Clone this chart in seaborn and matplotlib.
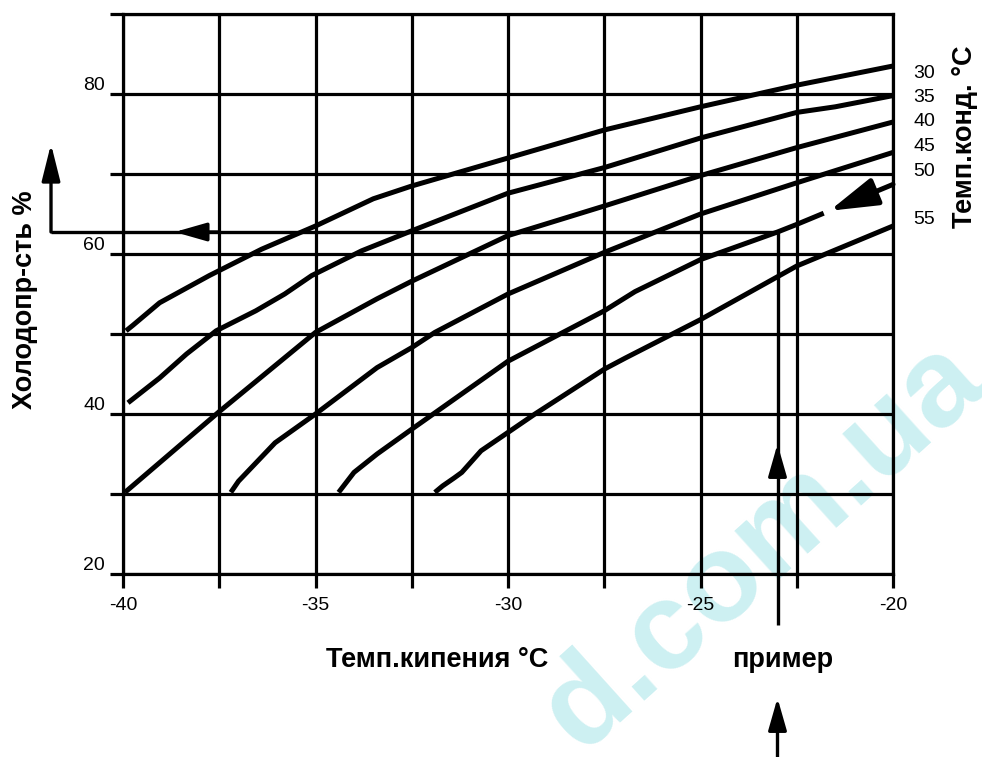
import numpy as np
import pandas as pd
import matplotlib
matplotlib.use("Agg")
import matplotlib.pyplot as plt
from matplotlib.ticker import FuncFormatter
import seaborn as sns

# Relative capacity (%) versus evaporating temperature (°C),
# one curve per condensing temperature.
cond_temps = [30, 35, 40, 45, 50, 55]

t_evap_30 = [-39.92, -39.74, -39.05, -37.76, -36.4, -35.0, -33.5, -32.5, -30.0, -27.5, -25.0, -22.5, -20.0]
cap_30 = [50.4, 51.1, 53.9, 57.3, 60.6, 63.5, 66.9, 68.5, 72.0, 75.5, 78.4, 81.1, 83.5]

t_evap_35 = [-39.87, -39.05, -38.35, -37.58, -36.55, -35.8, -35.1, -33.8, -32.5, -30.0, -27.5, -25.0, -22.5, -21.5, -20.0]
cap_35 = [41.4, 44.5, 47.5, 50.4, 52.9, 55.0, 57.3, 60.4, 62.9, 67.6, 70.8, 74.5, 77.7, 78.4, 79.8]

t_evap_40 = [-39.95, -37.5, -35.0, -33.4, -32.5, -30.0, -27.5, -25.0, -22.5, -20.0]
cap_40 = [30.2, 40.3, 50.2, 54.4, 56.6, 62.3, 66.0, 69.8, 73.3, 76.5]

t_evap_45 = [-37.2, -37.0, -36.05, -35.0, -33.4, -32.5, -31.9, -30.0, -27.5, -25.0, -22.5, -20.0]
cap_45 = [30.2, 31.6, 36.4, 40.0, 45.8, 48.3, 50.2, 55.0, 60.2, 65.0, 68.9, 72.7]

t_evap_50 = [-34.4, -34.0, -33.4, -32.5, -30.0, -27.5, -26.7, -25.0, -23.0, -22.5, -21.8, -20.0]
cap_50 = [30.2, 32.7, 35.0, 38.1, 46.6, 52.9, 55.3, 59.3, 62.75, 63.7, 65.1, 68.7]

t_evap_55 = [-31.9, -31.7, -31.4, -31.2, -30.7, -30.0, -29.3, -27.5, -26.95, -25.0, -22.5, -20.0]
cap_55 = [30.2, 31.0, 32.0, 32.7, 35.4, 37.7, 40.0, 45.6, 47.0, 51.8, 58.5, 63.5]

# Worked example: evaporating at -23 °C, condensing at 50 °C
example_t_evap = -23.0
example_capacity = 62.75

x_ticks = list(np.arange(-40, -19.9, 2.5))
y_ticks = [20, 30, 40, 50, 60, 70, 80, 90]
cond_label_y = [82.6, 79.5, 76.5, 73.4, 70.25, 64.25]

curves = {
    30: (t_evap_30, cap_30),
    35: (t_evap_35, cap_35),
    40: (t_evap_40, cap_40),
    45: (t_evap_45, cap_45),
    50: (t_evap_50, cap_50),
    55: (t_evap_55, cap_55),
}

sns.set_style("white")
plt.rcParams["font.family"] = ["Liberation Sans", "DejaVu Sans"]
plt.rcParams["text.color"] = "black"
plt.rcParams["axes.labelcolor"] = "black"

INK = "black"
GRID_LW = 2.3
CURVE_LW = 3.6
GUIDE_LW = 2.4
LABEL_FS = 19.5

fig = plt.figure(figsize=(9.82, 7.57), dpi=100)
ax = fig.add_axes([123 / 982, 1 - 574 / 757, 770 / 982, 560 / 757])
ax.patch.set_alpha(0)

# faint site mark behind the chart
fig.text(764 / 982, 1 - 546 / 757, "d.com.ua", fontsize=90, fontweight="bold",
         color="#cdf0f2", rotation=42, rotation_mode="anchor",
         ha="center", va="center", zorder=-5)

# condensing-temperature curves
arrow_from_t = -21.65
for tc in cond_temps:
    tx, cy = curves[tc]
    df = pd.DataFrame({"t_evap": tx, "capacity": cy})
    if tc == 50:
        body = df[df["t_evap"] <= -21.8]
        sns.lineplot(data=body, x="t_evap", y="capacity", color=INK, lw=CURVE_LW,
                     estimator=None, sort=False, ax=ax, legend=False,
                     solid_capstyle="butt", zorder=4)
        tip_y = float(np.interp(arrow_from_t, tx, cy))
        ax.annotate("", xy=(arrow_from_t, tip_y), xytext=(tx[-1], cy[-1]),
                    arrowprops=dict(arrowstyle="-|>,head_length=1.47,head_width=0.43",
                                    mutation_scale=20, color=INK, lw=CURVE_LW,
                                    shrinkA=0, shrinkB=0),
                    annotation_clip=False, zorder=5)
    else:
        sns.lineplot(data=df, x="t_evap", y="capacity", color=INK, lw=CURVE_LW,
                     estimator=None, sort=False, ax=ax, legend=False,
                     solid_capstyle="butt", zorder=4)

ax.set_xlim(-40, -20)
ax.set_ylim(20, 90)
ax.set_xticks(x_ticks)
ax.set_yticks(y_ticks)
ax.xaxis.set_major_formatter(FuncFormatter(lambda v, p: f"{v:.0f}" if abs(v % 5) < 1e-6 else ""))
ax.yaxis.set_major_formatter(FuncFormatter(lambda v, p: f"{v:.0f}" if v % 20 == 0 else ""))
ax.grid(True, color=INK, lw=GRID_LW)
ax.set_axisbelow(True)
ax.tick_params(axis="both", direction="out", colors=INK, width=GRID_LW, labelsize=14,
               labelcolor=INK, bottom=True, left=True, top=False, right=False)
ax.tick_params(axis="x", length=10, pad=6.5)
ax.tick_params(axis="y", length=9.4, pad=3.5)
for lab in ax.get_yticklabels():
    lab.set_verticalalignment("bottom")
for side in ["left", "right", "top", "bottom"]:
    ax.spines[side].set_visible(True)
    ax.spines[side].set_color(INK)
    ax.spines[side].set_linewidth(GRID_LW)

ax.set_xlabel("Темп.кипения °С", fontsize=LABEL_FS, fontweight="bold", color=INK)
ax.xaxis.set_label_coords((437 - 123) / 770, (574 - 660) / 560)
ax.xaxis.label.set_va("center")
ax.set_ylabel("Холодопр-сть %", fontsize=LABEL_FS, fontweight="bold", color=INK)
ax.yaxis.set_label_coords((25 - 123) / 770, (574 - 300) / 560)
ax.yaxis.label.set_va("center")

# condensing temperature labels on the right
for tc, ly in zip(cond_temps, cond_label_y):
    ax.text(-19.19, ly, str(tc), fontsize=14, ha="center", va="center",
            color=INK, clip_on=False)
fig.text(965 / 982, 1 - 137 / 757, "Темп.конд. °С", fontsize=LABEL_FS, fontweight="bold",
         rotation=90, ha="center", va="center", color=INK)

# example guide lines
left_x = -41.87
ax.plot([example_t_evap, left_x], [example_capacity, example_capacity],
        color=INK, lw=GUIDE_LW, clip_on=False, zorder=3, solid_capstyle="butt")
ax.plot([example_t_evap, example_t_evap], [example_capacity, 13.6],
        color=INK, lw=GUIDE_LW, clip_on=False, zorder=3, solid_capstyle="butt")

head = dict(arrowstyle="-|>,head_length=1.4,head_width=0.4", mutation_scale=14,
            color=INK, lw=GUIDE_LW, shrinkA=0, shrinkB=0)
# arrowhead pointing left along the capacity line
ax.annotate("", xy=(-38.66, example_capacity), xytext=(-37.5, example_capacity),
            arrowprops=head, annotation_clip=False, zorder=5)
# arrowhead pointing up along the temperature line
ax.annotate("", xy=(example_t_evap, 36.25), xytext=(example_t_evap, 33.0),
            arrowprops=head, annotation_clip=False, zorder=5)
# upward arrow below the chart
ax.annotate("", xy=(example_t_evap, 4.5), xytext=(example_t_evap, -3.5),
            arrowprops=head, annotation_clip=False, zorder=5)
# arrow up to the capacity axis
ax.annotate("", xy=(left_x, 73.75), xytext=(left_x, example_capacity),
            arrowprops=dict(head, arrowstyle="-|>,head_length=1.6,head_width=0.4"),
            annotation_clip=False, zorder=5)

fig.text(783 / 982, 1 - 660 / 757, "пример", fontsize=LABEL_FS, fontweight="bold",
         ha="center", va="center", color=INK)

fig.savefig("out.png", dpi=100)
